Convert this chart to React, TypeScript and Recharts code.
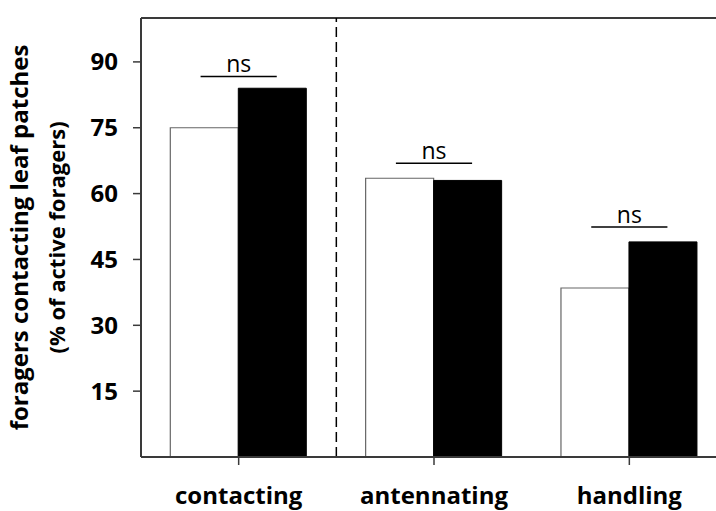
import { BarChart, Bar, XAxis, YAxis, ReferenceLine, Label } from 'recharts';

const categories = ['contacting', 'antennating', 'handling'];
const openValues = [75, 63.5, 38.5];
const filledValues = [84, 63, 49];
const sigHeights = [86.7, 66.9, 52.4];
const sigLabels = ['ns', 'ns', 'ns'];
const yTicks = [15, 30, 45, 60, 75, 90];
const separatorAfter = 'contacting';
const yMax = 100;

const FONT = '"Open Sans", sans-serif';
const AXIS = '#3a3a3a';

const data = categories.map((name, i) => ({
  name,
  pos: i + 0.5,
  open: openValues[i],
  filled: filledValues[i],
}));

function AxisTitle({ viewBox }: any) {
  const cy = viewBox.y + viewBox.height / 2;
  return (
    <g fontFamily={FONT} fontWeight={700} fill="#000">
      <text x={28} y={cy} transform={`rotate(-90, 28, ${cy})`} textAnchor="middle" fontSize={24}>
        foragers contacting leaf patches
      </text>
      <text x={65} y={cy} transform={`rotate(-90, 65, ${cy})`} textAnchor="middle" fontSize={22}>
        (% of active foragers)
      </text>
    </g>
  );
}

export default function App() {
  return (
    <div style={{ position: 'fixed', left: 0, top: 0, width: 716, height: 511, overflow: 'hidden', background: '#fff' }}>
      <BarChart
        width={727}
        height={511}
        data={data}
        margin={{ top: 18, right: 0, bottom: 0, left: 0 }}
        barCategoryGap="15%"
        barGap={0}
      >
        <XAxis
          xAxisId="cat"
          dataKey="name"
          height={54}
          tickSize={8}
          tickMargin={22}
          axisLine={{ stroke: AXIS, strokeWidth: 2 }}
          tickLine={{ stroke: AXIS, strokeWidth: 1.5 }}
          tick={{ fill: '#000', fontSize: 24, fontWeight: 700, fontFamily: FONT }}
        />
        <XAxis
          xAxisId="sep"
          dataKey="pos"
          type="number"
          domain={[0, categories.length]}
          allowDataOverflow
          hide
        />
        <YAxis
          width={141}
          domain={[0, yMax]}
          ticks={yTicks}
          tickSize={8}
          tickMargin={15}
          axisLine={{ stroke: AXIS, strokeWidth: 2 }}
          tickLine={{ stroke: AXIS, strokeWidth: 1.5 }}
          tick={{ fill: '#000', fontSize: 24, fontWeight: 700, fontFamily: FONT }}
        >
          <Label content={<AxisTitle />} />
        </YAxis>
        <ReferenceLine xAxisId="cat" y={yMax} stroke={AXIS} strokeWidth={2} />
        <ReferenceLine
          xAxisId="cat"
          x={separatorAfter}
          position="end"
          stroke="#000"
          strokeWidth={1.5}
          strokeDasharray="10 5"
        />
        <Bar xAxisId="cat" dataKey="open" fill="#fff" stroke="#666" strokeWidth={1.2} isAnimationActive={false} />
        <Bar xAxisId="cat" dataKey="filled" fill="#000" stroke="#000" strokeWidth={1} isAnimationActive={false} />
        {sigHeights.map((h, i) => (
          <ReferenceLine
            key={i}
            xAxisId="sep"
            segment={[
              { x: i + 0.305, y: h },
              { x: i + 0.695, y: h },
            ]}
            stroke="#000"
            strokeWidth={1.5}
            label={{ value: sigLabels[i], position: 'top', offset: 4, fill: '#000', fontSize: 23, fontFamily: FONT }}
          />
        ))}
      </BarChart>
    </div>
  );
}
